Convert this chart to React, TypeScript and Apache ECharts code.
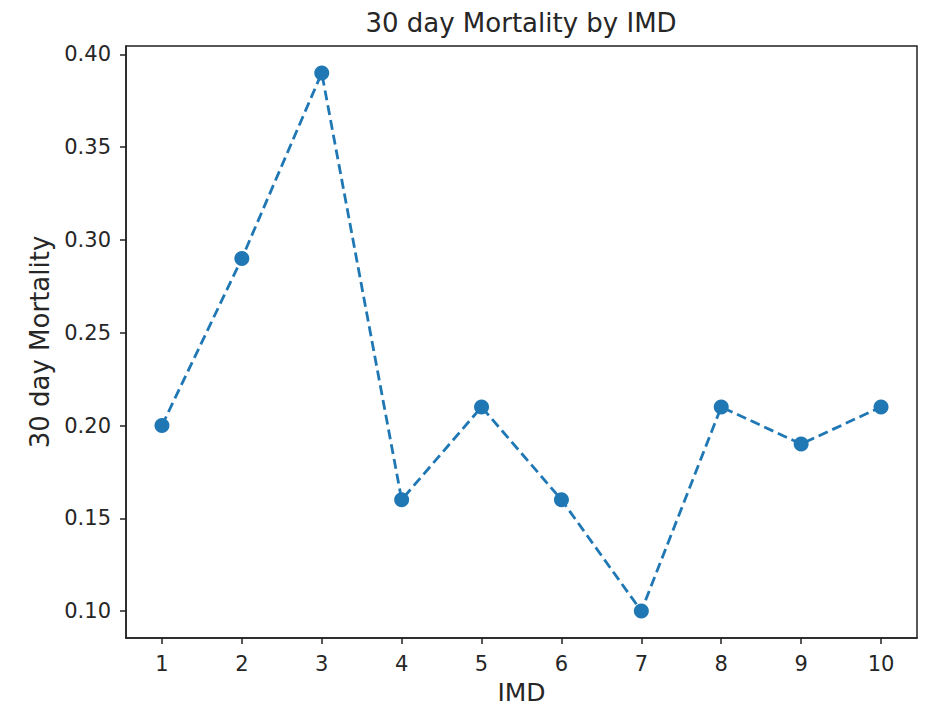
import React, { useEffect, useRef } from "react";
import * as echarts from "echarts";

const imd = [1, 2, 3, 4, 5, 6, 7, 8, 9, 10];
const mortality = [0.2, 0.29, 0.39, 0.16, 0.21, 0.16, 0.1, 0.21, 0.19, 0.21];
const yTicks = [0.1, 0.15, 0.2, 0.25, 0.3, 0.35, 0.4];
const xTicks = imd;

export default function App() {
  const ref = useRef<HTMLDivElement>(null);
  useEffect(() => {
    if (!ref.current) return;
    const chart = echarts.init(ref.current, null, { renderer: "svg" });
    const font = "DejaVu Sans";
    const textColor = "#262626";
    chart.setOption({
      animation: false,
      backgroundColor: "#ffffff",
      graphic: [
        {
          type: "text",
          x: 521,
          y: 23,
          style: {
            text: "30 day Mortality by IMD",
            fontFamily: font,
            fontSize: 26,
            fill: textColor,
            textAlign: "center",
            textVerticalAlign: "middle",
          },
        },
      ],
      grid: {
        left: 126,
        right: 18,
        top: 46,
        bottom: 70,
        show: true,
        borderColor: "#222",
        borderWidth: 1.5,
        backgroundColor: "transparent",
        outerBoundsMode: "none",
        containLabel: false,
      },
      xAxis: {
        type: "value",
        min: 0.55,
        max: 10.45,
        name: "IMD",
        nameLocation: "middle",
        nameGap: 42,
        nameTextStyle: { fontFamily: font, fontSize: 25, color: textColor },
        axisLine: { show: true, lineStyle: { color: "#222", width: 1.5 } },
        axisTick: {
          show: true,
          inside: false,
          length: 6,
          customValues: xTicks,
          lineStyle: { color: "#222", width: 1.5 },
        },
        axisLabel: {
          customValues: xTicks,
          fontFamily: font,
          fontSize: 21,
          color: textColor,
          margin: 15,
        },
        splitLine: { show: false },
      },
      yAxis: {
        type: "value",
        min: 0.0855,
        max: 0.4045,
        name: "30 day Mortality",
        nameLocation: "middle",
        nameGap: 73,
        nameRotate: 90,
        nameTextStyle: { fontFamily: font, fontSize: 26, color: textColor },
        axisLine: { show: true, lineStyle: { color: "#222", width: 1.5 } },
        axisTick: {
          show: true,
          inside: false,
          length: 6,
          customValues: yTicks,
          lineStyle: { color: "#222", width: 1.5 },
        },
        axisLabel: {
          customValues: yTicks,
          fontFamily: font,
          fontSize: 21,
          color: textColor,
          margin: 15,
          formatter: (v: number) => v.toFixed(2),
        },
        splitLine: { show: false },
      },
      series: [
        {
          type: "line",
          data: imd.map((x, i) => [x, mortality[i]]),
          symbol: "circle",
          symbolSize: 15,
          showSymbol: true,
          itemStyle: { color: "#1f77b4" },
          lineStyle: { color: "#1f77b4", width: 2.8, type: [10, 5] },
        },
      ],
    });
    return () => chart.dispose();
  }, []);
  return (
    <div
      ref={ref}
      style={{ position: "fixed", left: 0, top: 0, width: 935, height: 708 }}
    />
  );
}
